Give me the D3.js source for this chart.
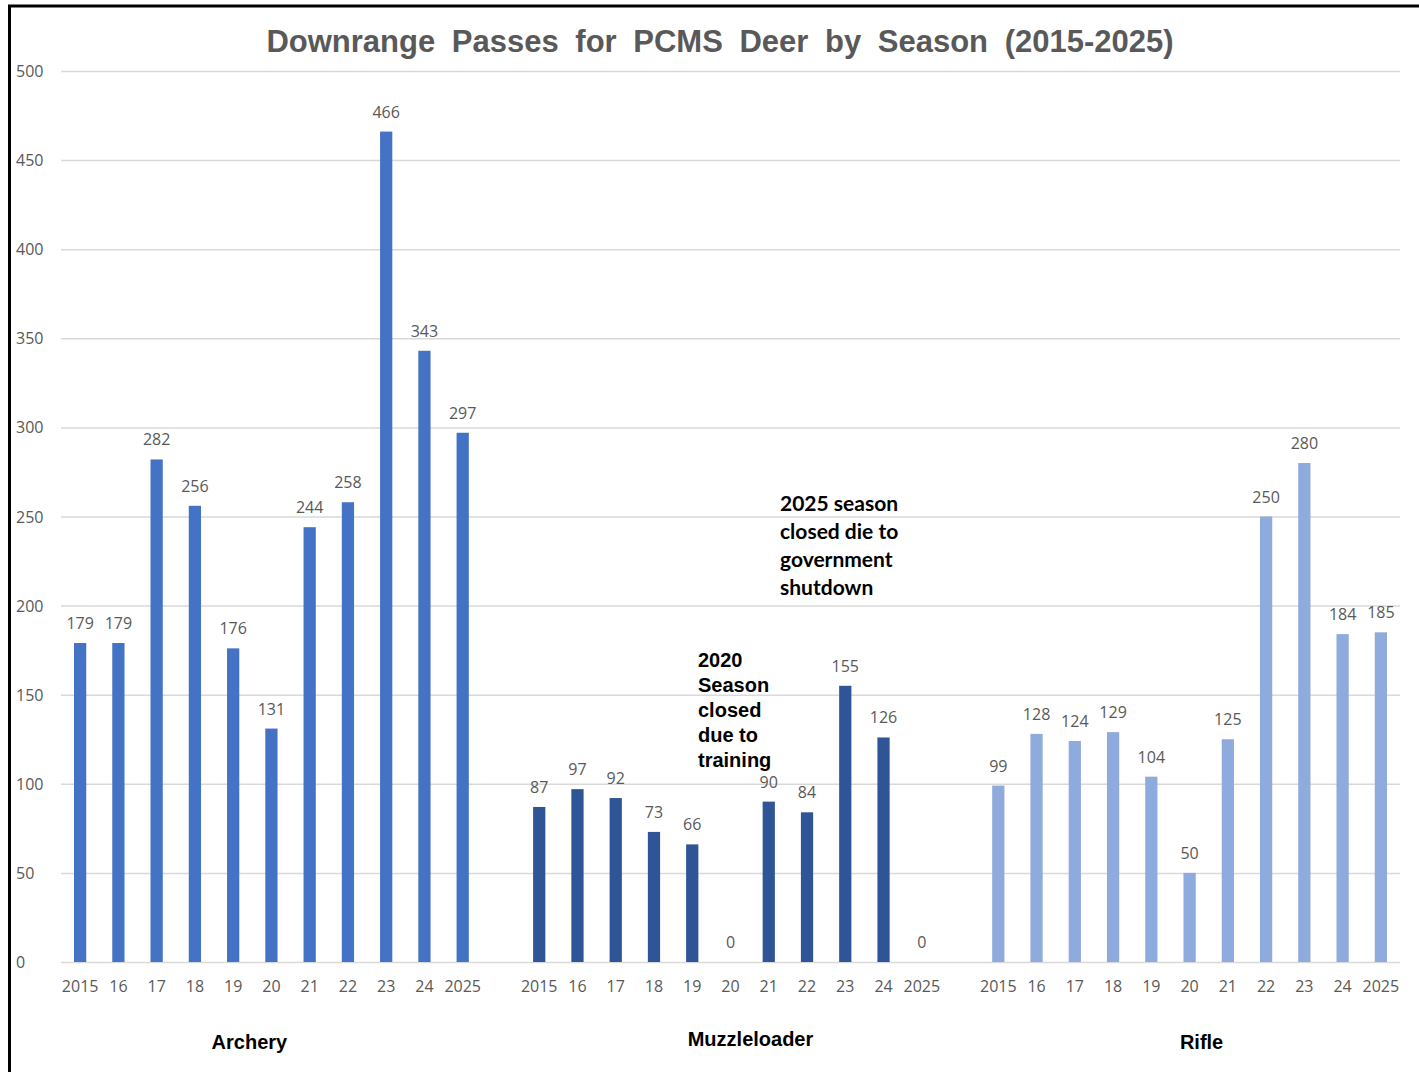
<!DOCTYPE html>
<html>
<head>
<meta charset="utf-8">
<script src="https://cdn.jsdelivr.net/npm/d3@7"></script>
<style>
  body { margin: 0; background: #fff; }
  svg { display: block; }
</style>
</head>
<body>
<div id="chart"></div>
<script>
// values
const seasons = ["Archery", "Muzzleloader", "Rifle"];
const yearLabels = ["2015", "16", "17", "18", "19", "20", "21", "22", "23", "24", "2025"];
const archery = [179, 179, 282, 256, 176, 131, 244, 258, 466, 343, 297];
const muzzleloader = [87, 97, 92, 73, 66, 0, 90, 84, 155, 126, 0];
const rifle = [99, 128, 124, 129, 104, 50, 125, 250, 280, 184, 185];
const yTicks = [0, 50, 100, 150, 200, 250, 300, 350, 400, 450, 500];
const colors = ["#4472C4", "#2F5597", "#8FAADC"];

const W = 1419, H = 1072;
const margin = { top: 71, left: 61, right: 19, bottom: 110 };

// one slot per bar, plus an empty slot between seasons
let slots = [];
let rows = [];
[archery, muzzleloader, rifle].forEach((vals, g) => {
  vals.forEach((v, i) => {
    let key = g + "-" + i;
    slots.push(key);
    rows.push({ key: key, group: g, label: yearLabels[i], value: v });
  });
  if (g < 2) slots.push("gap-" + g);
});

const svg = d3.select("#chart").append("svg")
  .attr("width", W).attr("height", H);

// frame (left and top edges only)
svg.append("line").attr("x1", 9.5).attr("y1", 5).attr("x2", 9.5).attr("y2", H)
  .attr("stroke", "#000").attr("stroke-width", 3);
svg.append("line").attr("x1", 8).attr("y1", 6).attr("x2", W).attr("y2", 6)
  .attr("stroke", "#000").attr("stroke-width", 3);

var x = d3.scaleBand().domain(slots)
  .range([margin.left, W - margin.right]).paddingInner(0.68).paddingOuter(0.34);
var y = d3.scaleLinear().domain([0, 500]).range([962, margin.top]);

// gridlines
svg.append("g")
  .attr("transform", "translate(" + margin.left + ",0)")
  .call(d3.axisLeft(y).tickValues(yTicks).tickSize(-(W - margin.left - margin.right)).tickFormat(""))
  .call(g => g.select(".domain").remove())
  .call(g => g.selectAll("line").attr("stroke", "#d9d9d9").attr("stroke-width", 1.5));

// y labels
svg.append("g").selectAll("text").data(yTicks).join("text")
  .attr("x", 16).attr("y", d => y(d) + 6)
  .attr("font-family", "Open Sans, sans-serif").attr("font-size", 16)
  .attr("fill", "#595959")
  .text(d => d);

// bars
svg.append("g").selectAll("rect").data(rows).join("rect")
  .attr("x", d => x(d.key))
  .attr("width", x.bandwidth())
  .attr("y", d => y(d.value))
  .attr("height", d => y(0) - y(d.value))
  .attr("fill", d => colors[d.group]);

// value labels
svg.append("g").selectAll("text").data(rows).join("text")
  .attr("x", d => x(d.key) + x.bandwidth() / 2)
  .attr("y", d => y(d.value) - 14)
  .attr("text-anchor", "middle")
  .attr("font-family", "Open Sans, sans-serif").attr("font-size", 16)
  .attr("fill", "#595959")
  .text(d => d.value);

// x labels
svg.append("g").selectAll("text").data(rows).join("text")
  .attr("x", d => x(d.key) + x.bandwidth() / 2)
  .attr("y", 992)
  .attr("text-anchor", "middle")
  .attr("font-family", "Open Sans, sans-serif").attr("font-size", 16)
  .attr("fill", "#595959")
  .text(d => d.label);

// season labels (not centred exactly under the bars in the original)
const seasonShift = [-22, 20, 12];
seasons.forEach((s, g) => {
  let first = x(g + "-0"), last = x(g + "-10") + x.bandwidth();
  svg.append("text")
    .attr("x", (first + last) / 2 + seasonShift[g])
    .attr("y", g == 1 ? 1046 : 1049)
    .attr("text-anchor", "middle")
    .attr("font-family", "Liberation Sans, Arial, sans-serif")
    .attr("font-weight", "bold").attr("font-size", 20)
    .attr("fill", "#000")
    .text(s);
});

// title
svg.append("text")
  .attr("x", 720).attr("y", 52)
  .attr("text-anchor", "middle")
  .attr("font-family", "Liberation Sans, Arial, sans-serif")
  .attr("font-weight", "bold").attr("font-size", 31)
  .attr("word-spacing", 8)
  .attr("fill", "#595959")
  .text("Downrange Passes for PCMS Deer by Season (2015-2025)");

// notes
const note2025 = ["2025 season", "closed die to", "government", "shutdown"];
const note2020 = ["2020", "Season", "closed", "due to", "training"];

svg.append("g").selectAll("text").data(note2025).join("text")
  .attr("x", 780).attr("y", (d, i) => 511 + i * 28)
  .attr("font-family", "Lato, sans-serif").attr("font-weight", "bold")
  .attr("font-size", 21).attr("fill", "#000")
  .text(d => d);

svg.append("g").selectAll("text").data(note2020).join("text")
  .attr("x", 698).attr("y", (d, i) => 667 + i * 25)
  .attr("font-family", "Liberation Sans, Arial, sans-serif").attr("font-weight", "bold")
  .attr("font-size", 20).attr("fill", "#000")
  .text(d => d);
</script>
</body>
</html>
